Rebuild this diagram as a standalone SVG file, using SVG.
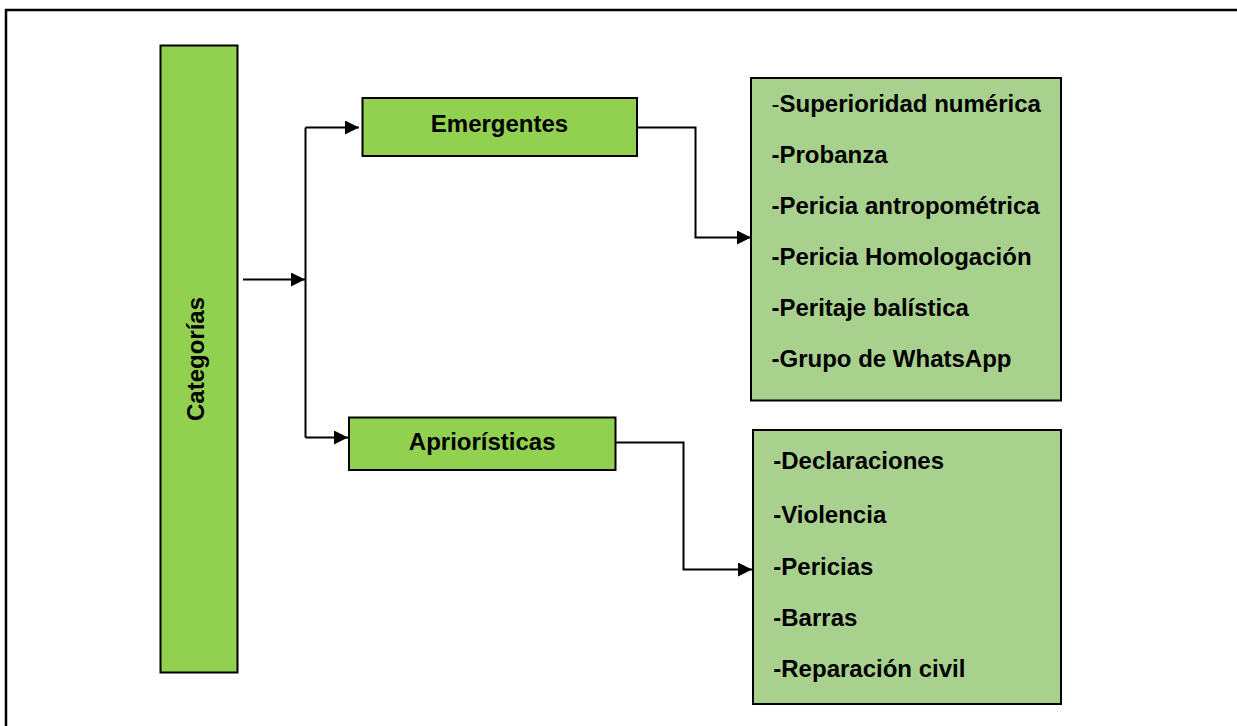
<svg xmlns="http://www.w3.org/2000/svg" width="1237" height="726" viewBox="0 0 1237 726">
<style>
.main{fill:#92D050;stroke:#000;stroke-width:2}
.list{fill:#A9D18E;stroke:#000;stroke-width:2}
.t{font-family:"Liberation Sans",Arial,sans-serif;font-weight:bold;font-size:24px;fill:#000}
.c{text-anchor:middle}
.conn{fill:none;stroke:#000;stroke-width:2}
.frame{fill:none;stroke:#000;stroke-width:2.5}
</style>
<defs>
<marker id="ah" viewBox="0 0 14 14" refX="14" refY="7" markerWidth="14" markerHeight="14" markerUnits="userSpaceOnUse" orient="auto">
<path d="M0,0 L14,7 L0,14 Z" fill="#000"/>
</marker>
</defs>
<path class="frame" d="M6,726 V10 H1237"/>
<g id="connectors">
<path class="conn" d="M243,279.5 H305" marker-end="url(#ah)"/>
<path class="conn" d="M305.5,437.5 V127.5"/>
<path class="conn" d="M305.5,127.5 H359" marker-end="url(#ah)"/>
<path class="conn" d="M305.5,437.5 H348" marker-end="url(#ah)"/>
<path class="conn" d="M637,127.5 H695.5 V237.5 H751" marker-end="url(#ah)"/>
<path class="conn" d="M616,442.5 H683.5 V569.5 H752" marker-end="url(#ah)"/>
</g>
<g id="categorias">
<rect class="main" x="160.5" y="45.5" width="77" height="627"/>
<text class="t c" transform="translate(204,359) rotate(-90)" x="0" y="0">Categorías</text>
</g>
<g id="emergentes">
<rect class="main" x="362.5" y="98" width="274.5" height="58"/>
<text class="t c" x="499.5" y="131.5">Emergentes</text>
</g>
<g id="aprioristicas">
<rect class="main" x="349" y="417.5" width="266.5" height="52.5"/>
<text class="t c" x="482.2" y="450">Apriorísticas</text>
</g>
<g id="lista-emergentes">
<rect class="list" x="751" y="78" width="310" height="322.5"/>
<text class="t" x="771.5" y="111.5"><tspan font-weight="normal">-</tspan>Superioridad numérica</text>
<text class="t" x="771.5" y="162.5">-Probanza</text>
<text class="t" x="771.5" y="214">-Pericia antropométrica</text>
<text class="t" x="771.5" y="264.5">-Pericia Homologación</text>
<text class="t" x="771.5" y="316">-Peritaje balística</text>
<text class="t" x="771.5" y="366.5">-Grupo de WhatsApp</text>
</g>
<g id="lista-aprioristicas">
<rect class="list" x="753" y="430" width="308" height="274"/>
<text class="t" x="773.3" y="469.3">-Declaraciones</text>
<text class="t" x="773.3" y="523.3">-Violencia</text>
<text class="t" x="773.3" y="575">-Pericias</text>
<text class="t" x="773.3" y="626">-Barras</text>
<text class="t" x="773.3" y="676.7">-Reparación civil</text>
</g>
</svg>
